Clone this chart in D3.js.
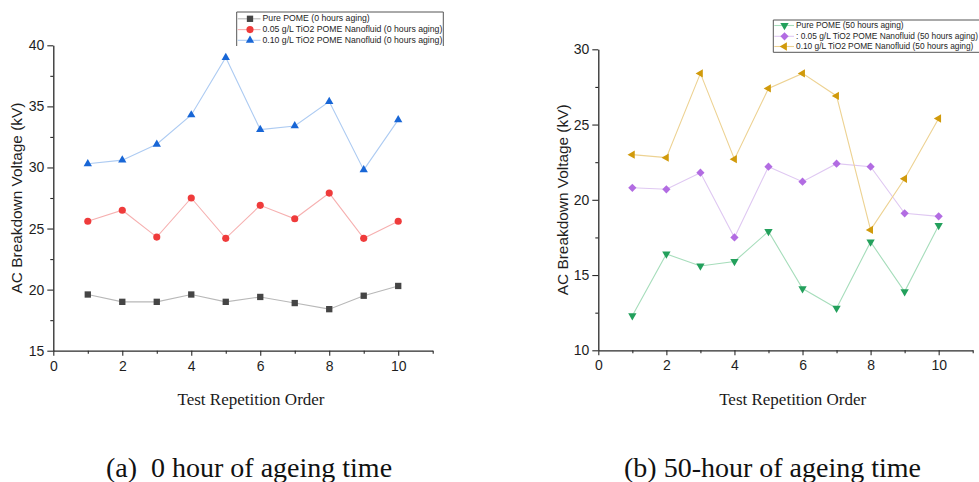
<!DOCTYPE html>
<html>
<head>
<meta charset="utf-8">
<script src="https://cdn.jsdelivr.net/npm/d3@7/dist/d3.min.js"></script>
<style>
  html, body { margin: 0; padding: 0; background: #fff; }
  svg { display: block; }
  text { white-space: pre; }
</style>
</head>
<body>
<svg id="chart" width="979" height="482"></svg>
<script>
// Test repetition order (x values shared by every series)
const runs = [1, 2, 3, 4, 5, 6, 7, 8, 9, 10];

// Panel (a): 0 hours of ageing, AC breakdown voltage in kV
const pure0 = [19.6, 19.0, 19.0, 19.6, 19.0, 19.4, 18.9, 18.4, 19.5, 20.3];
const tio2_005_0 = [25.6, 26.5, 24.3, 27.5, 24.2, 26.9, 25.8, 27.9, 24.2, 25.6];
const tio2_010_0 = [30.3, 30.6, 31.9, 34.3, 39.0, 33.1, 33.4, 35.4, 29.8, 33.9];

// Panel (b): 50 hours of ageing, AC breakdown voltage in kV
const pure50 = [12.3, 16.4, 15.6, 15.9, 17.9, 14.1, 12.8, 17.2, 13.9, 18.3];
const tio2_005_50 = [20.8, 20.7, 21.8, 17.5, 22.2, 21.2, 22.4, 22.2, 19.1, 18.9];
const tio2_010_50 = [23.0, 22.8, 28.4, 22.7, 27.4, 28.4, 26.9, 18.0, 21.4, 25.4];

const seriesNamesA = [
  "Pure POME (0 hours aging)",
  "0.05 g/L TiO2 POME Nanofluid (0 hours aging)",
  "0.10 g/L TiO2 POME Nanofluid (0 hours aging)"
];
const seriesNamesB = [
  "Pure POME (50 hours aging)",
  ": 0.05 g/L TiO2 POME Nanofluid (50 hours aging)",
  "0.10 g/L TiO2 POME Nanofluid (50 hours aging)"
];

const yTitle = "AC Breakdown Voltage (kV)";
const xTitle = "Test Repetition Order";
const captionA = "(a)  0 hour of ageing time";
const captionB = "(b) 50-hour of ageing time";

const SANS = "'Liberation Sans', Arial, Helvetica, sans-serif";
const SERIF = "'Liberation Serif', 'Times New Roman', serif";
const SVG_W = 979;

const svg = d3.select("#chart");

// marker shapes: d3 symbol + rotation
const shapes = {
  square:   { type: d3.symbolSquare,   size: 40, rot: 0 },
  circle:   { type: d3.symbolCircle,   size: 40, rot: 0 },
  triUp:    { type: d3.symbolTriangle, size: 30, rot: 0 },
  triDown:  { type: d3.symbolTriangle, size: 30, rot: 180 },
  diamond:  { type: d3.symbolSquare,   size: 34, rot: 45 },
  triLeft:  { type: d3.symbolTriangle, size: 30, rot: -90 }
};

function drawPanel(cfg) {
  const g = svg.append("g");
  const x = d3.scaleLinear().domain([0, 11]).range([cfg.x0, cfg.x1]);
  const y = d3.scaleLinear().domain(cfg.yDomain).range([cfg.yBottom, cfg.yTop]);

  // y axis: labelled major ticks, unlabelled minor ticks in between
  const yMajor = d3.range(cfg.yDomain[0], cfg.yDomain[1] + 0.01, 5);
  const yMinor = d3.range(cfg.yDomain[0] + 2.5, cfg.yDomain[1], 5);
  g.append("g").attr("transform", `translate(${cfg.x0},0)`)
    .call(d3.axisLeft(y).tickValues(yMajor).tickSize(6).tickPadding(3).tickSizeOuter(0));
  g.append("g").attr("transform", `translate(${cfg.x0},0)`)
    .call(d3.axisLeft(y).tickValues(yMinor).tickSize(3).tickFormat("").tickSizeOuter(0))
    .select(".domain").remove();

  // x axis: even values labelled, odd values as minor ticks
  const xMajor = [0, 2, 4, 6, 8, 10];
  const xMinor = [1, 3, 5, 7, 9, 11];
  g.append("g").attr("transform", `translate(0,${cfg.yBottom})`)
    .call(d3.axisBottom(x).tickValues(xMajor).tickSize(5).tickPadding(5).tickSizeOuter(0));
  g.append("g").attr("transform", `translate(0,${cfg.yBottom})`)
    .call(d3.axisBottom(x).tickValues(xMinor).tickSize(3).tickFormat("").tickSizeOuter(0))
    .select(".domain").remove();

  g.selectAll(".domain").attr("stroke", "#2a2a2a").attr("stroke-width", 1.3);
  g.selectAll(".tick line").attr("stroke", "#2a2a2a").attr("stroke-width", 1.1);
  g.selectAll(".tick text").attr("fill", "#1e1e1e")
    .style("font-family", SANS).style("font-size", "14px");

  // axis titles and panel caption
  g.append("text")
    .attr("transform", `translate(${cfg.yTitleX},${(cfg.yTop + cfg.yBottom) / 2}) rotate(-90)`)
    .attr("text-anchor", "middle").attr("dominant-baseline", "middle")
    .style("font-family", SANS).style("font-size", "15.4px").attr("fill", "#1e1e1e")
    .text(yTitle);
  g.append("text")
    .attr("x", cfg.xTitleX).attr("y", 405)
    .attr("text-anchor", "middle")
    .style("font-family", SERIF).style("font-size", "17px").attr("fill", "#1a1a1a")
    .text(xTitle);
  g.append("text")
    .attr("x", cfg.captionX).attr("y", 477)
    .attr("text-anchor", "middle")
    .style("font-family", SERIF).style("font-size", "28px").attr("fill", "#111")
    .text(cfg.caption);

  // series lines and markers
  const line = d3.line().x((d, i) => x(runs[i])).y(d => y(d));
  cfg.series.forEach(s => {
    g.append("path").datum(s.values)
      .attr("d", line).attr("fill", "none")
      .attr("stroke", s.lineColor).attr("stroke-width", 1.1);
    const sh = shapes[s.shape];
    const sym = d3.symbol().type(sh.type).size(sh.size);
    g.selectAll(null).data(s.values).enter().append("path")
      .attr("d", sym)
      .attr("transform", (d, i) => `translate(${x(runs[i])},${y(d)}) rotate(${sh.rot})`)
      .attr("fill", s.color);
  });

  // legend
  const L = cfg.legend;
  const lg = g.append("g");
  lg.append("path")
    .attr("d", L.closed
      ? `M${L.left},${L.top}H${L.right}V${L.bottom}H${L.left}Z`
      : `M${L.left},${L.bottom}V${L.top}H${L.right}V${L.bottom}`)
    .attr("fill", "#fff").attr("stroke", "#555").attr("stroke-width", 1);
  const labels = [];
  cfg.series.forEach((s, k) => {
    const cy = L.rows[k];
    lg.append("line")
      .attr("x1", L.left + 1).attr("x2", L.textX - 2)
      .attr("y1", cy).attr("y2", cy)
      .attr("stroke", s.lineColor).attr("stroke-width", 1.1);
    const sh = shapes[s.shape];
    lg.append("path")
      .attr("d", d3.symbol().type(sh.type).size(sh.size))
      .attr("transform", `translate(${L.symX},${cy}) rotate(${sh.rot})`)
      .attr("fill", s.color);
    labels.push(lg.append("text")
      .attr("x", L.textX).attr("y", cy)
      .attr("dominant-baseline", "middle")
      .style("font-family", SANS).style("font-size", L.fontSize + "px").attr("fill", "#1e1e1e")
      .text(s.name));
  });
  // keep the legend entries inside the drawing area
  const widest = d3.max(labels, t => t.node().getComputedTextLength());
  const room = SVG_W - 1 - L.textX;
  if (widest > room) {
    const fs = L.fontSize * room / widest;
    labels.forEach(t => t.style("font-size", fs + "px"));
  }
}

drawPanel({
  x0: 53.3, x1: 432.7, yTop: 45.3, yBottom: 350.7, yDomain: [15, 40],
  yTitleX: 18, xTitleX: 251, captionX: 249, caption: captionA,
  series: [
    { name: seriesNamesA[0], values: pure0, shape: "square", color: "#454545", lineColor: "#b8b8b8" },
    { name: seriesNamesA[1], values: tio2_005_0, shape: "circle", color: "#ef3b3b", lineColor: "#f6b0b0" },
    { name: seriesNamesA[2], values: tio2_010_0, shape: "triUp", color: "#1866d6", lineColor: "#adcbf2" }
  ],
  legend: { left: 236.7, right: 443.3, top: 12, bottom: 46, closed: false,
            rows: [18.8, 29.6, 40.3], symX: 250, textX: 262.5, fontSize: 8.7 }
});

drawPanel({
  x0: 598.3, x1: 972.7, yTop: 49.3, yBottom: 350.3, yDomain: [10, 30],
  yTitleX: 564, xTitleX: 792.7, captionX: 772.5, caption: captionB,
  series: [
    { name: seriesNamesB[0], values: pure50, shape: "triDown", color: "#23a05c", lineColor: "#a6ddbb" },
    { name: seriesNamesB[1], values: tio2_005_50, shape: "diamond", color: "#b26ce2", lineColor: "#dfc8f2" },
    { name: seriesNamesB[2], values: tio2_010_50, shape: "triLeft", color: "#d19a0b", lineColor: "#edd292" }
  ],
  legend: { left: 773.3, right: 1000, top: 20, bottom: 52.3, closed: true,
            rows: [25.5, 36.3, 46.5], symX: 784.5, textX: 796, fontSize: 8.7 }
});
</script>
</body>
</html>
